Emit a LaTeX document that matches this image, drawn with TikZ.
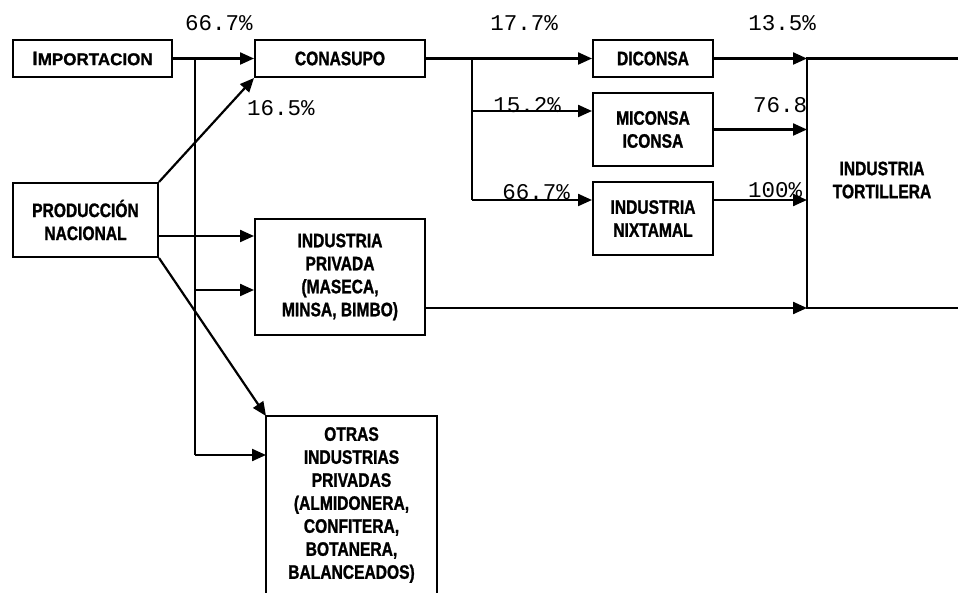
\documentclass[tikz,border=0pt]{standalone}
\usepackage{fontspec}
\setmainfont{Liberation Sans}
\newfontfamily\boxfont{Liberation Sans}[FakeStretch=0.8, FakeBold=1.2]
\newfontfamily\impfont{Liberation Sans}[FakeBold=1.2]
\newfontfamily\numfont{Liberation Mono}
\usetikzlibrary{arrows.meta}
\tikzset{
  box/.style={draw, line width=2pt, inner sep=0pt, align=center,
    font=\boxfont\bfseries\fontsize{19.5}{23}\selectfont},
  openbox/.style={box, draw=none},
  pct/.style={inner sep=0pt, font=\numfont\fontsize{22.5}{22}\selectfont},
  conn/.style={line width=2.2pt},
  arr/.style={conn, -{Triangle[length=14pt,width=12pt]}}
}
\begin{document}
\begin{tikzpicture}[x=1pt,y=-1pt]
\useasboundingbox[fill=white] (0,0) rectangle (958,593);
% boxes
\node[box, minimum width=159pt, minimum height=37pt] (imp) at (92.5,58.5)
  {\impfont\bfseries\fontsize{19.5}{19}\selectfont I\fontsize{17}{19}\selectfont MPORTACION};
\node[box, minimum width=170pt, minimum height=37pt] (con) at (340,58.5) {CONASUPO};
\node[box, minimum width=145pt, minimum height=74pt] (prod) at (85.5,220) {PRODUCCIÓN\\NACIONAL};
\node[box, minimum width=170pt, minimum height=116pt] (priv) at (340,277) {INDUSTRIA\\PRIVADA\\(MASECA,\\MINSA, BIMBO)};
\node[openbox, minimum width=169pt, minimum height=176pt] (otras) at (351.5,505)
  {OTRAS\\INDUSTRIAS\\PRIVADAS\\(ALMIDONERA,\\CONFITERA,\\BOTANERA,\\BALANCEADOS)};
\draw[line width=2pt] (otras.south west) -- (otras.north west) -- (otras.north east) -- (otras.south east);
\node[box, minimum width=120pt, minimum height=37pt] (dic) at (653,58.5) {DICONSA};
\node[box, minimum width=120pt, minimum height=73pt] (mic) at (653,129.5) {MICONSA\\ICONSA};
\node[box, minimum width=120pt, minimum height=73pt] (nix) at (653,218.5) {INDUSTRIA\\NIXTAMAL};
\node[openbox] (tort) at (882,180) {INDUSTRIA\\TORTILLERA};
% coordinates
\coordinate (j1) at (195,58.5);
\coordinate (j1c) at (195,290);
\coordinate (j1b) at (195,455);
\coordinate (p1) at (158,236);
\coordinate (j2) at (472,58.5);
\coordinate (j2c) at (472,111);
\coordinate (j2b) at (472,200);
\coordinate (t1) at (807,58.5);
\coordinate (t4) at (807,308);
\coordinate (e1) at (960,58.5);
\coordinate (e4) at (960,308);
% connectors left
\draw[arr] (imp.east) -- (con.west);
\draw[conn] (j1) -- (j1b);
\draw[arr] (j1c) -- (j1c -| priv.west);
\draw[arr] (j1b) -- (j1b -| otras.west);
\draw[arr] (prod.north east) -- (con.south west);
\draw[arr] (p1) -- (p1 -| priv.west);
\draw[arr] (prod.south east) -- (otras.north west);
% connectors middle
\draw[arr] (con.east) -- (dic.west);
\draw[conn] (j2) -- (j2b);
\draw[arr] (j2c) -- (j2c -| mic.west);
\draw[arr] (j2b) -- (j2b -| nix.west);
% connectors right
\draw[arr] (dic.east) -- (t1);
\draw[arr] (mic.east) -- (mic.east -| t1);
\draw[arr] (nix.east |- j2b) -- (t1 |- j2b);
\draw[arr] (priv.east |- t4) -- (t4);
\draw[conn] (e1) -- (t1) -- (t4) -- (e4);
% labels
\node[pct] (l1) at (219,23) {66.7\%};
\node[pct] (l2) at (281,108) {16.5\%};
\node[pct] (l3) at (524,23) {17.7\%};
\node[pct] (l4) at (782,23) {13.5\%};
\node[pct] (l5) at (527,105) {15.2\%};
\node[pct] (l6) at (780,105) {76.8};
\node[pct] (l7) at (536,192) {66.7\%};
\node[pct] (l8) at (775,190) {100\%};
\end{tikzpicture}
\end{document}
